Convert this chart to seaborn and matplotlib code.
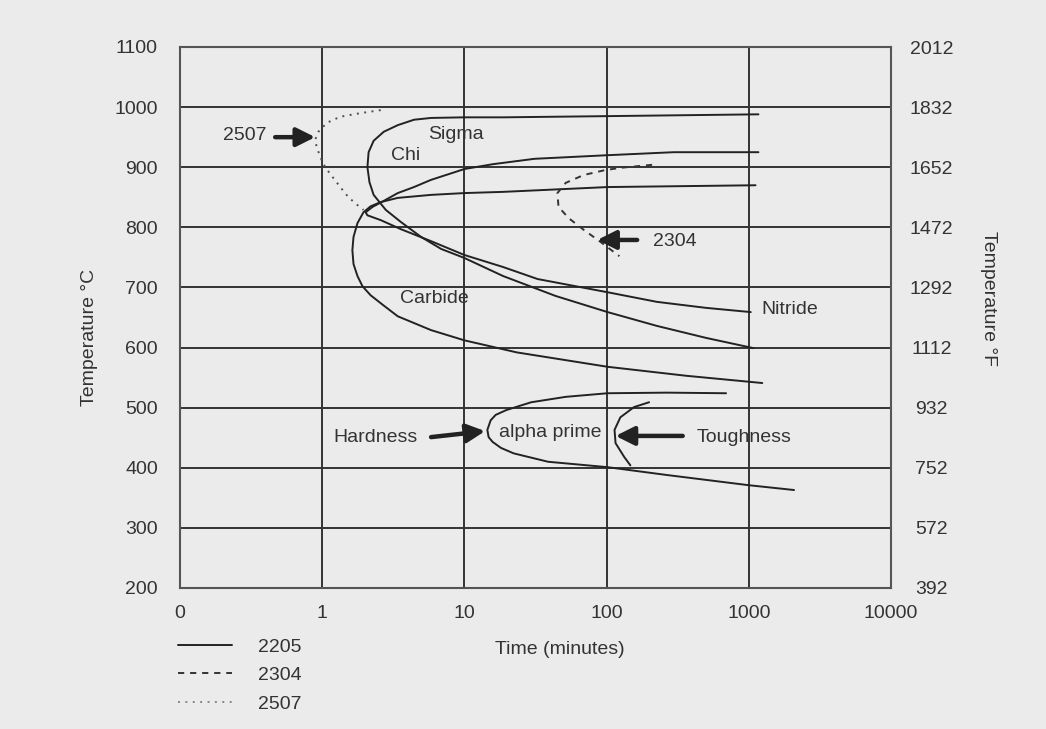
import numpy as np
import pandas as pd
import matplotlib
matplotlib.use('Agg')
import matplotlib.pyplot as plt
from matplotlib.lines import Line2D
import seaborn as sns

# ---- data (time in minutes, temperature in °C) ----
sigma_t = [1169, 101.6, 18.7, 10, 5.83, 4.42, 3.40, 2.71, 2.30, 2.12, 2.08, 2.15, 2.30, 2.80,
           3.57, 4.96, 6.87, 10, 18.7, 43.6, 101.6, 226, 502, 1081]
sigma_T = [988, 985, 983, 983, 982, 979, 970, 959, 944, 925, 900, 875, 854, 829,
           809, 784, 764, 749, 719, 686, 659, 636, 616, 599]

chi_t = [1169, 297, 101.6, 31.1, 15.8, 10, 5.83, 4.42, 3.40, 2.71, 2.26, 2.02,
         2.08, 2.58, 3.57, 5.83, 10, 18.7, 32.7, 101.6, 226, 502, 1032]
chi_T = [925, 925, 920, 914, 905, 897, 879, 867, 857, 844, 834, 825,
         820, 812, 797, 777, 754, 734, 714, 692, 676, 666, 659]

carbide_t = [1115, 101.6, 18.7, 10, 5.83, 3.40, 2.58, 2.19, 1.95, 1.77, 1.66, 1.63, 1.66, 1.77,
             1.92, 2.19, 2.67, 3.40, 5.83, 10, 23.3, 101.6, 365, 1244]
carbide_T = [870, 867, 859, 857, 854, 849, 842, 835, 825, 807, 784, 762, 739, 719,
             702, 687, 671, 652, 629, 612, 592, 568, 553, 541]

alpha_t = [692, 265, 101.6, 51.6, 29.5, 19.7, 16.6, 15.3, 14.5, 14.8, 15.8, 18.1, 22.2,
           38.8, 101.6, 265, 1000, 2080]
alpha_T = [524, 525, 524, 518, 509, 496, 488, 479, 463, 451, 443, 433, 424,
           410, 401, 388, 371, 363]

tough_t = [199, 156, 125, 113.7, 115.6, 133, 147]
tough_T = [509, 501, 484, 463, 441, 418, 404]

g2304_t = [209, 125, 96.7, 68.9, 51.6, 45.1, 45.9, 54.3, 68.9, 90.3, 123]
g2304_T = [904, 899, 895, 887, 874, 857, 834, 815, 796, 776, 752]

g2507_t = [2.58, 1.86, 1.34, 1.08, 0.94, 0.89, 0.92, 0.97, 1.05, 1.18, 1.34, 1.53, 1.77, 1.95]
g2507_T = [995, 990, 984, 974, 959, 945, 932, 917, 900, 884, 867, 850, 837, 829]

x_ticks = [0.1, 1, 10, 100, 1000, 10000]
x_ticklabels = ['0', '1', '10', '100', '1000', '10000']
c_ticks = [200, 300, 400, 500, 600, 700, 800, 900, 1000, 1100]
f_ticklabels = ['392', '572', '752', '932', '1112', '1292', '1472', '1652', '1832', '2012']

grades = ['2205', '2304', '2507']

curves = [
    ('sigma', '2205', sigma_t, sigma_T),
    ('chi', '2205', chi_t, chi_T),
    ('carbide', '2205', carbide_t, carbide_T),
    ('alpha', '2205', alpha_t, alpha_T),
    ('tough', '2205', tough_t, tough_T),
    ('c2304', '2304', g2304_t, g2304_T),
    ('c2507', '2507', g2507_t, g2507_T),
]
df = pd.concat([
    pd.DataFrame({'curve': name, 'grade': grade, 't': t, 'T': T})
    for name, grade, t, T in curves
], ignore_index=True)

# ---- style ----
bg = '#ebebeb'
ink = '#333333'
sns.set_theme(style='white')
plt.rcParams['font.family'] = ['Liberation Sans', 'DejaVu Sans']
plt.rcParams['font.size'] = 14

colors = {'2205': '#222222', '2304': '#333333', '2507': '#4d4d4d'}
dashes = {'2205': '', '2304': (3.2, 3), '2507': (1, 2.8)}

fig = plt.figure(figsize=(10.46, 7.29), dpi=100, facecolor=bg)
ax = fig.add_axes([180 / 1046, 1 - 588 / 729, (891 - 180) / 1046, 541 / 729])
ax.set_facecolor(bg)

sns.lineplot(data=df, x='t', y='T', units='curve', hue='grade', style='grade',
             palette=colors, dashes=dashes, estimator=None, sort=False,
             linewidth=1.4, legend=False, ax=ax, zorder=3)

ax.set_xscale('log')
ax.set_xlim(0.1, 10000)
ax.set_ylim(200, 1100)
ax.set_xticks(x_ticks)
ax.set_xticklabels(x_ticklabels)
ax.minorticks_off()
ax.set_yticks(c_ticks)
ax.grid(True, color='#333333', linewidth=1.4, zorder=1)
ax.set_axisbelow(True)
ax.tick_params(axis='both', length=0, labelsize=14, colors=ink)
ax.tick_params(axis='x', pad=12.5)
ax.tick_params(axis='y', pad=16)
for s in ax.spines.values():
    s.set_color('#555555')
    s.set_linewidth(1.5)

ax.set_xlabel('Time (minutes)', fontsize=14, color=ink)
ax.xaxis.set_label_coords(0.534, -0.098)
ax.set_ylabel('Temperature °C', fontsize=14, color=ink)
ax.yaxis.set_label_coords(-0.116, 0.464)

ax2 = ax.twinx()
ax2.set_ylim(200, 1100)
ax2.set_yticks(c_ticks)
ax2.set_yticklabels(f_ticklabels, ha='center')
ax2.tick_params(axis='y', length=0, labelsize=14, colors=ink, pad=29)
for s in ax2.spines.values():
    s.set_visible(False)
ax2.set_ylabel('Temperature °F', fontsize=14, color=ink, rotation=270)
ax2.yaxis.set_label_coords(1.149, 0.536)

# ---- phase labels ----
labels = [
    ('Sigma', 8.77, 954, 'center'),
    ('Chi', 3.88, 920, 'center'),
    ('Carbide', 6.12, 682, 'center'),
    ('Nitride', 1224, 664, 'left'),
    ('alpha prime', 40.1, 459, 'center'),
]
for txt, x, y, ha in labels:
    ax.text(x, y, txt, ha=ha, va='center', fontsize=14, color=ink, zorder=4)

arrow_kw = dict(arrowstyle='-|>,head_length=0.7,head_width=0.35', lw=3.2,
                color='#222222', shrinkA=0, shrinkB=0, mutation_scale=16)
arrows = [
    ('2507', (0.287, 952), (0.467, 950), (0.893, 950)),
    ('2304', (301, 776), (164, 779), (85.9, 779)),
    ('Hardness', (2.38, 451), (5.83, 451), (14.0, 461)),
    ('Toughness', (923, 451), (343, 453), (115.6, 453)),
]
for txt, pos, tail, head in arrows:
    ax.text(pos[0], pos[1], txt, ha='center', va='center', fontsize=14, color=ink, zorder=4)
    ax.annotate('', xy=head, xytext=tail, arrowprops=arrow_kw, zorder=4)

# ---- legend below the plot ----
handles = []
for g in grades:
    h = Line2D([0], [0], color=colors[g] if g != '2507' else '#888888', lw=1.4)
    if dashes[g]:
        h.set_dashes(dashes[g])
    handles.append(h)
fig.legend(handles, grades, loc='upper left', bbox_to_anchor=(178 / 1046, 1 - 638 / 729),
           frameon=False, fontsize=14, handlelength=2.8, handletextpad=1.3,
           labelspacing=0.56, borderpad=0, borderaxespad=0, labelcolor=ink)

fig.savefig('out.png', dpi=100, facecolor=bg)
